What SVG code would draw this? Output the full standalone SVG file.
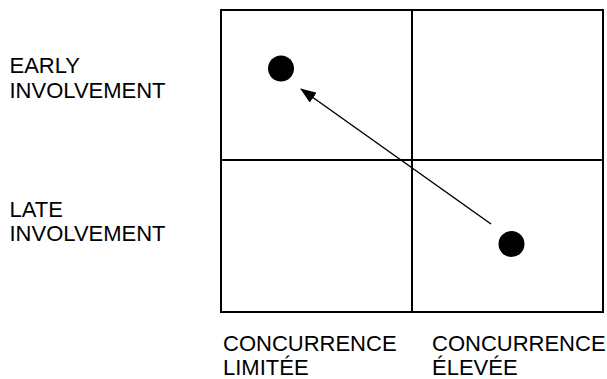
<svg xmlns="http://www.w3.org/2000/svg" width="607" height="379" viewBox="0 0 607 379">
<defs>
<style>
text{font-family:"Liberation Sans",Arial,sans-serif;font-size:22px;fill:#000}
.grid{fill:none;stroke:#000;stroke-width:2}
.dot{fill:#000}
.conn{stroke:#000;stroke-width:1.5;fill:none}
</style>
<marker id="ah" markerWidth="16" markerHeight="12" refX="15" refY="6" orient="auto" markerUnits="userSpaceOnUse">
<path d="M0,0 L16,6 L0,12 Z" fill="#000"/>
</marker>
</defs>
<rect width="607" height="379" fill="#fff"/>
<g id="grid">
<rect class="grid" x="221" y="10" width="382" height="302"/>
<line class="grid" x1="412" y1="10" x2="412" y2="312"/>
<line class="grid" x1="221" y1="160" x2="603" y2="160"/>
</g>
<g id="node-early">
<circle class="dot" cx="281" cy="68.5" r="13"/>
</g>
<g id="node-late">
<circle class="dot" cx="511.5" cy="244" r="13"/>
</g>
<g id="connectors">
<line class="conn" x1="491" y1="224" x2="301" y2="89" marker-end="url(#ah)"/>
</g>
<g id="labels">
<text x="9.5" y="73">EARLY</text>
<text x="9.5" y="98">INVOLVEMENT</text>
<text x="9.5" y="217">LATE</text>
<text x="9.5" y="241">INVOLVEMENT</text>
<text x="223" y="351">CONCURRENCE</text>
<text x="223" y="375">LIMITÉE</text>
<text x="432" y="351">CONCURRENCE</text>
<text x="432" y="375">ÉLEVÉE</text>
</g>
</svg>
